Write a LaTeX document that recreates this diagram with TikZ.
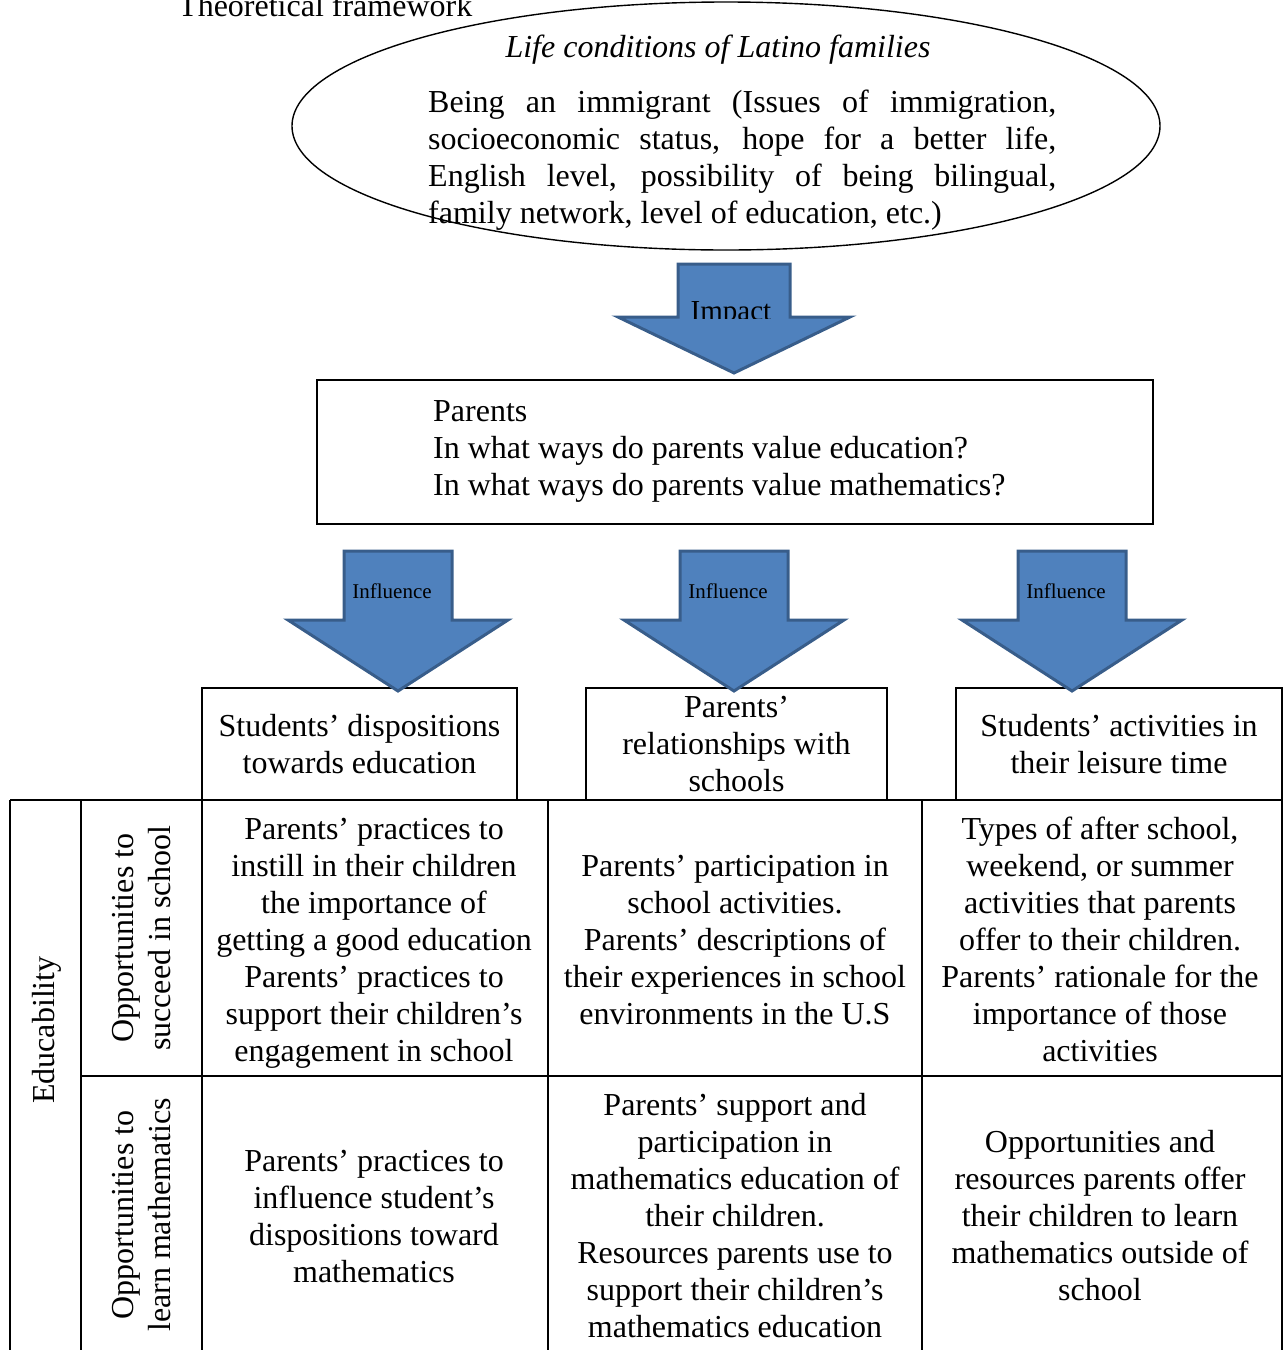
\documentclass[tikz,border=0pt]{standalone}
\usepackage{fontspec}
\setmainfont{Liberation Serif}
\definecolor{arrowfill}{HTML}{4F81BD}
\definecolor{arrowline}{HTML}{385D8A}
\tikzset{
  tx/.style={font=\fontsize{32}{37}\selectfont, inner sep=0pt, align=center},
  small/.style={font=\fontsize{21}{24}\selectfont, inner sep=0pt},
  boxnode/.style={draw, line width=1.4pt, inner sep=0pt, font=\fontsize{32}{37}\selectfont, align=center},
  barrow/.style={fill=arrowfill, draw=arrowline, line width=3pt, line join=miter},
  grid/.style={line width=2pt}
}
\begin{document}
\begin{tikzpicture}[x=1pt,y=-1pt]
\useasboundingbox (0,0) rectangle (1283,1350);
\clip (0,0) rectangle (1283,1350);

% title
\node[tx, anchor=base west] (title) at (178,16) {Theoretical framework};

% ellipse
\draw[line width=1.4pt] (726,126) ellipse (434 and 124);
\node[tx, font=\fontsize{32}{37}\selectfont\itshape] (life) at (718,50) {Life conditions of Latino families};
\node[tx, anchor=west, align=left] (being) at (428,160.5) {%
\makebox[628pt][s]{Being an immigrant (Issues of immigration,}\\
\makebox[628pt][s]{socioeconomic status, hope for a better life,}\\
\makebox[628pt][s]{English level, possibility of being bilingual,}\\
family network, level of education, etc.)};

% Impact arrow
\draw[barrow] (678,264) -- (790,264) -- (790,317) -- (850,317) -- (734,373) -- (618,317) -- (678,317) -- cycle;
\begin{scope}
\clip (600,280) rectangle (870,318.5);
\node[font=\fontsize{29}{33}\selectfont, inner sep=0pt, anchor=base] (impact) at (731,320) {Impact};
\end{scope}

% Parents box
\node[boxnode, minimum width=836pt, minimum height=144pt] (parents) at (735,452) {};
\node[tx, anchor=west, align=left] (parentsT) at (433,451) {Parents\\In what ways do parents value education?\\In what ways do parents value mathematics?};

% row boxes
\node[boxnode, minimum width=315pt, minimum height=112pt] (b1) at (359.5,744) {Students' dispositions\\towards education};
\node[boxnode, minimum width=301pt, minimum height=112pt] (b2) at (736.5,744) {Parents'\\relationships with\\schools};
\node[boxnode, minimum width=326pt, minimum height=112pt] (b3) at (1119,744) {Students' activities in\\their leisure time};

% Influence arrows
\foreach \c/\n in {398/i1,734/i2,1072/i3}{
  \draw[barrow] (\c-54,551) -- (\c+54,551) -- (\c+54,620) -- (\c+110,620) -- (\c,691) -- (\c-110,620) -- (\c-54,620) -- cycle;
  \node[small] (\n) at (\c-6,591) {Influence};
}

% table grid
\draw[grid] (10,800) -- (1282,800);
\draw[grid] (81,1076) -- (1282,1076);
\foreach \x in {10,81,202,548,922,1282}{
  \draw[grid] (\x,800) -- (\x,1360);
}

% row/column labels
\node[tx, rotate=90] (educ) at (47,1030) {Educability};
\node[tx, rotate=90] (opp1) at (142,938) {Opportunities to\\succeed in school};
\node[tx, rotate=90] (opp2) at (142,1215) {Opportunities to\\learn mathematics};

% cells row 1
\node[tx] (c11) at (374,943) {Parents' practices to\\instill in their children\\the importance of\\getting a good education\\Parents' practices to\\support their children's\\engagement in school};
\node[tx] (c12) at (735,940.5) {Parents' participation in\\school activities.\\Parents' descriptions of\\their experiences in school\\environments in the U.S};
\node[tx] (c13) at (1100,939) {Types of after school,\\weekend, or summer\\activities that parents\\offer to their children.\\Parents' rationale for the\\importance of those\\activities};

% cells row 2
\node[tx] (c21) at (374,1216) {Parents' practices to\\influence student's\\dispositions toward\\mathematics};
\node[tx] (c22) at (735,1215.5) {Parents' support and\\participation in\\mathematics education of\\their children.\\Resources parents use to\\support their children's\\mathematics education};
\node[tx] (c23) at (1100,1216) {Opportunities and\\resources parents offer\\their children to learn\\mathematics outside of\\school};
\end{tikzpicture}
\end{document}
